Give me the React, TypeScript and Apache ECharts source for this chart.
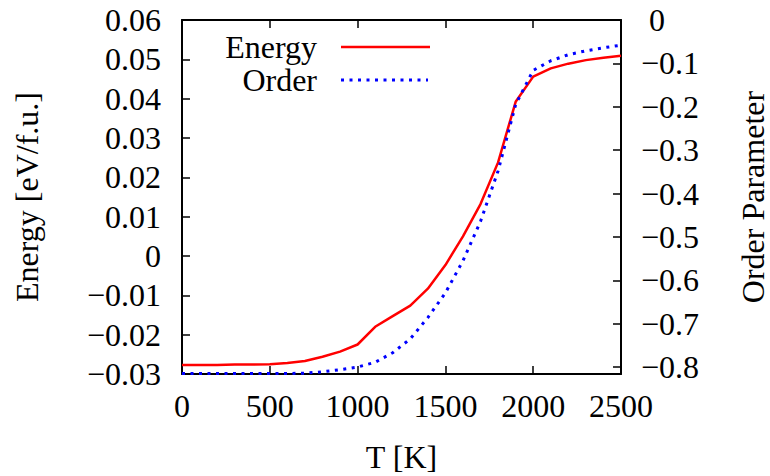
import React, { useEffect, useRef } from "react";
import * as echarts from "echarts";

const temps = [0, 100, 200, 300, 400, 500, 600, 700, 800, 900, 1000, 1100, 1200, 1300, 1400, 1500, 1600, 1700, 1800, 1900, 2000, 2100, 2200, 2300, 2400, 2500];
const energy = [-0.0277, -0.0277, -0.0277, -0.0276, -0.0276, -0.0275, -0.0272, -0.0267, -0.0256, -0.0243, -0.0225, -0.018, -0.0153, -0.0126, -0.0083, -0.0023, 0.005, 0.0132, 0.0238, 0.0392, 0.0456, 0.0477, 0.0489, 0.0498, 0.0504, 0.0509];
const order = [-0.815, -0.815, -0.815, -0.815, -0.815, -0.815, -0.815, -0.814, -0.811, -0.806, -0.8, -0.789, -0.767, -0.735, -0.686, -0.629, -0.555, -0.464, -0.348, -0.195, -0.116, -0.094, -0.08, -0.071, -0.064, -0.058];
const rightTicks = [0, -0.1, -0.2, -0.3, -0.4, -0.5, -0.6, -0.7, -0.8];
const seriesNames = ["Energy", "Order"];

const FONT = "Liberation Serif";
const FS = 32;

function fmt(v: number, digits: number): string {
  if (Math.abs(v) < 1e-9) return "0";
  return (v < 0 ? "\u2212" : "") + Math.abs(v).toFixed(digits);
}

export default function App() {
  const ref = useRef<HTMLDivElement>(null);
  useEffect(() => {
    if (!ref.current) return;
    const chart = echarts.init(ref.current, null, { renderer: "svg" });
    const axisLine = { show: true, onZero: false, lineStyle: { color: "#000", width: 2 } };
    const tick = { show: true, inside: true, length: 8, lineStyle: { color: "#000", width: 1.5 } };
    const labelStyle = { color: "#000", fontFamily: FONT, fontSize: FS };
    chart.setOption({
      animation: false,
      backgroundColor: "#fff",
      textStyle: { fontFamily: FONT },
      grid: { left: 182, top: 20, width: 439, height: 354, containLabel: false, outerBoundsMode: "none" },
      xAxis: [
        {
          type: "value",
          min: 0,
          max: 2500,
          interval: 500,
          position: "bottom",
          axisLine,
          axisTick: tick,
          splitLine: { show: false },
          axisLabel: { ...labelStyle, margin: 16, formatter: (v: number) => String(Math.round(v)) },
          name: "T [K]",
          nameLocation: "middle",
          nameGap: 67,
          nameTextStyle: { ...labelStyle },
        },
        {
          type: "value",
          min: 0,
          max: 2500,
          interval: 500,
          position: "top",
          axisLine,
          axisTick: tick,
          splitLine: { show: false },
          axisLabel: { show: false },
        },
      ],
      yAxis: [
        {
          type: "value",
          min: -0.03,
          max: 0.06,
          interval: 0.01,
          position: "left",
          axisLine,
          axisTick: tick,
          splitLine: { show: false },
          axisLabel: { ...labelStyle, margin: 21, formatter: (v: number) => fmt(v, 2) },
          name: "Energy [eV/f.u.]",
          nameLocation: "middle",
          nameGap: 139,
          nameRotate: 90,
          nameTextStyle: { ...labelStyle },
        },
        {
          type: "value",
          min: -0.816,
          max: 0,
          position: "right",
          axisLine,
          axisTick: { ...tick, customValues: rightTicks },
          splitLine: { show: false },
          axisLabel: {
            ...labelStyle,
            margin: 20,
            customValues: rightTicks,
            formatter: (v: number) => (Math.abs(v) < 1e-9 ? "\u00A00" : fmt(v, 1)),
          },
          name: "Order Parameter",
          nameLocation: "middle",
          nameGap: 116,
          nameRotate: 90,
          nameTextStyle: { ...labelStyle },
        },
      ],
      graphic: [
        { type: "text", x: 317, y: 47, style: { text: seriesNames[0], fill: "#000", fontFamily: FONT, fontSize: FS, textAlign: "right", textVerticalAlign: "middle" } },
        { type: "line", shape: { x1: 341, y1: 47, x2: 430, y2: 47 }, style: { stroke: "#ff0000", lineWidth: 2.5 } },
        { type: "text", x: 317, y: 80, style: { text: seriesNames[1], fill: "#000", fontFamily: FONT, fontSize: FS, textAlign: "right", textVerticalAlign: "middle" } },
        { type: "line", shape: { x1: 341, y1: 80, x2: 428, y2: 80 }, style: { stroke: "#0000ff", lineWidth: 3, lineDash: [3, 5.5] } },
      ],
      series: [
        {
          name: seriesNames[0],
          type: "line",
          xAxisIndex: 0,
          yAxisIndex: 0,
          showSymbol: false,
          symbol: "none",
          data: temps.map((t, i) => [t, energy[i]]),
          lineStyle: { color: "#ff0000", width: 2.5 },
          itemStyle: { color: "#ff0000" },
        },
        {
          name: seriesNames[1],
          type: "line",
          xAxisIndex: 0,
          yAxisIndex: 1,
          showSymbol: false,
          symbol: "none",
          data: temps.map((t, i) => [t, order[i]]),
          lineStyle: { color: "#0000ff", width: 3, type: [3, 5.5] },
          itemStyle: { color: "#0000ff" },
        },
      ],
    });
    return () => chart.dispose();
  }, []);
  return <div ref={ref} style={{ position: "fixed", left: 0, top: 0, width: 770, height: 476 }} />;
}
